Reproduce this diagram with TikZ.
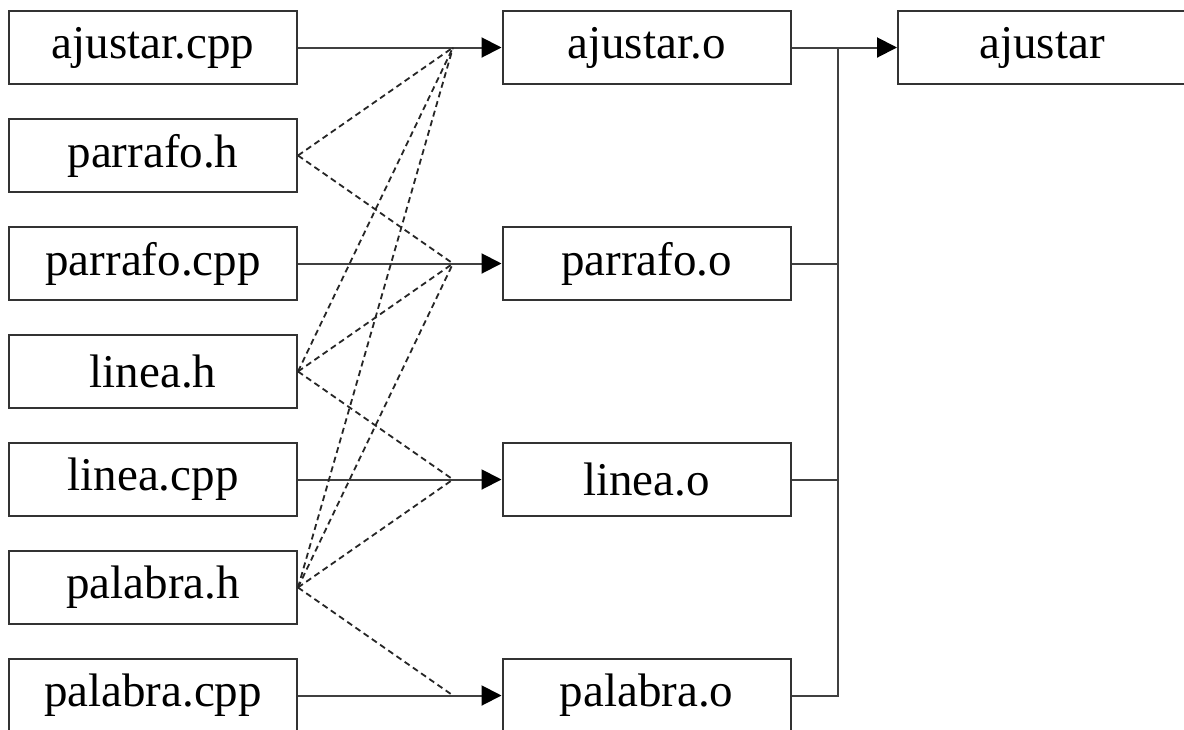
\documentclass[tikz,border=0pt]{standalone}
\usepackage{fontspec}
\setmainfont{Liberation Serif}
\usetikzlibrary{arrows.meta}
\begin{document}
\begin{tikzpicture}[x=1pt,y=-1pt,
  filebox/.style={draw=black!80,line width=2pt,fill=white,minimum width=288pt,minimum height=73pt,inner sep=0pt,
    font=\fontsize{47}{56}\selectfont},
  solid link/.style={draw=black!75,line width=2pt},
  arrow link/.style={solid link,-{Triangle[length=20pt,width=20pt,fill=black,color=black]}},
  dep link/.style={draw=black!85,line width=1.8pt,dash pattern=on 6pt off 4pt}]
\clip (0,0) rectangle (1184,729);
\fill[white] (0,0) rectangle (1184,729);
% left column
\node[filebox] (l1) at (153,47.5) {ajustar.cpp};
\node[filebox] (l2) at (153,155.5) {parrafo.h};
\node[filebox] (l3) at (153,263.5) {parrafo.cpp};
\node[filebox] (l4) at (153,371.5) {linea.h};
\node[filebox] (l5) at (153,479.5) {linea.cpp};
\node[filebox] (l6) at (153,587.5) {palabra.h};
\node[filebox] (l7) at (153,695.5) {palabra.cpp};
% middle column
\node[filebox] (m1) at (646.5,47.5) {ajustar.o};
\node[filebox] (m2) at (646.5,263.5) {parrafo.o};
\node[filebox] (m3) at (646.5,479.5) {linea.o};
\node[filebox] (m4) at (646.5,695.5) {palabra.o};
% right
\node[filebox] (r) at (1042,47.5) {ajustar};
% junctions
\coordinate (j1) at (453,47.5);
\coordinate (j2) at (453,263.5);
\coordinate (j3) at (453,479.5);
\coordinate (j4) at (453,695.5);
% solid arrows
\draw[arrow link] (l1.east) -- (m1.west);
\draw[arrow link] (l3.east) -- (m2.west);
\draw[arrow link] (l5.east) -- (m3.west);
\draw[arrow link] (l7.east) -- (m4.west);
% dashed dependencies
\draw[dep link] (l2.east) -- (j1);
\draw[dep link] (l4.east) -- (j1);
\draw[dep link] (l6.east) -- (j1);
\draw[dep link] (l2.east) -- (j2);
\draw[dep link] (l4.east) -- (j2);
\draw[dep link] (l6.east) -- (j2);
\draw[dep link] (l4.east) -- (j3);
\draw[dep link] (l6.east) -- (j3);
\draw[dep link] (l6.east) -- (j4);
% bus
\coordinate (bt) at (838,47.5);
\coordinate (bb) at (838,695.5);
\draw[arrow link] (m1.east) -- (r.west);
\draw[solid link] (bt) -- (bb) -- (m4.east);
\draw[solid link] (m2.east) -- (m2.east -| bt);
\draw[solid link] (m3.east) -- (m3.east -| bt);
\end{tikzpicture}
\end{document}
